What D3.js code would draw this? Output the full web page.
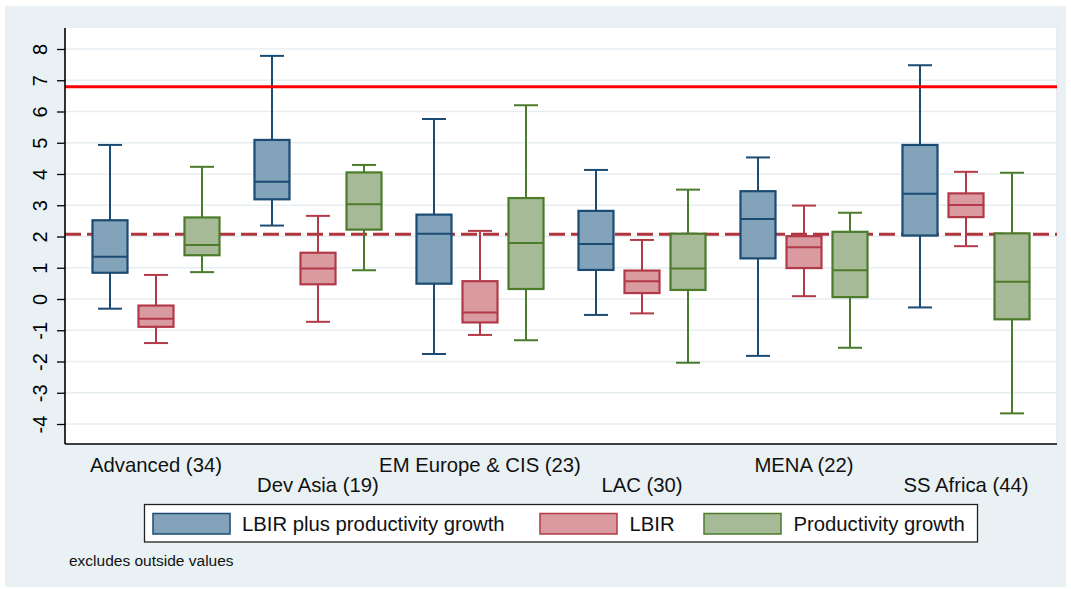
<!DOCTYPE html>
<html>
<head>
<meta charset="utf-8">
<script src="https://cdn.jsdelivr.net/npm/d3@7"></script>
<style>
  html, body { margin: 0; padding: 0; background: #ffffff; }
  svg { display: block; font-family: "Liberation Sans", Arial, Helvetica, sans-serif; }
</style>
</head>
<body>
<svg id="chart" width="1071" height="589"></svg>
<script>
// Regions and sample counts
const groups = ["Advanced (34)", "Dev Asia (19)", "EM Europe & CIS (23)", "LAC (30)", "MENA (22)", "SS Africa (44)"];
const seriesNames = ["LBIR plus productivity growth", "LBIR", "Productivity growth"];

// Box statistics per region: [lower whisker, q1, median, q3, upper whisker]
const lbirPlusProd = [
  [-0.31, 0.84, 1.35, 2.52, 4.93],
  [ 2.35, 3.19, 3.75, 5.09, 7.78],
  [-1.76, 0.49, 2.09, 2.70, 5.76],
  [-0.51, 0.93, 1.76, 2.82, 4.13],
  [-1.82, 1.30, 2.56, 3.45, 4.53],
  [-0.27, 2.03, 3.37, 4.93, 7.48]
];
const lbir = [
  [-1.41, -0.89, -0.63, -0.21, 0.77],
  [-0.73,  0.47,  0.98,  1.48, 2.66],
  [-1.15, -0.75, -0.43,  0.57, 2.18],
  [-0.46,  0.19,  0.57,  0.91, 1.89],
  [ 0.09,  0.99,  1.66,  2.01, 2.99],
  [ 1.69,  2.62,  3.01,  3.38, 4.07]
];
const prodGrowth = [
  [ 0.86, 1.40, 1.73, 2.61, 4.23],
  [ 0.92, 2.22, 3.03, 4.05, 4.29],
  [-1.32, 0.32, 1.79, 3.23, 6.20],
  [-2.04, 0.29, 0.98, 2.09, 3.50],
  [-1.56, 0.06, 0.92, 2.15, 2.76],
  [-3.66, -0.65, 0.55, 2.10, 4.04]
];
const yTicks = [-4, -3, -2, -1, 0, 1, 2, 3, 4, 5, 6, 7, 8];
const solidRefValue = 6.79;   // solid red reference line
const dashedRefValue = 2.07;  // dashed reference line

const seriesData = [lbirPlusProd, lbir, prodGrowth];
const fills = ["#82a3ba", "#d99aa0", "#a7ba97"];
const strokes = ["#1b4b73", "#b23a48", "#4b7b2b"];

const svg = d3.select("#chart");
const W = 1071, H = 589;
const plot = { left: 65, right: 1057, top: 28, bottom: 444 };

// Background panel
svg.append("rect").attr("x", 0).attr("y", 0).attr("width", W).attr("height", H).attr("fill", "#ffffff");
svg.append("rect").attr("x", 5).attr("y", 6).attr("width", 1061).attr("height", 581).attr("fill", "#e9f1f4");
svg.append("rect")
  .attr("x", plot.left).attr("y", plot.top)
  .attr("width", plot.right - plot.left).attr("height", plot.bottom - plot.top)
  .attr("fill", "#ffffff");

// Scales
const y = d3.scaleLinear().domain([-4.64, 8.672]).range([plot.bottom, plot.top]);
const x0 = d3.scaleBand().domain(groups).range([plot.left, plot.right]).paddingInner(0).paddingOuter(0.0617);
const x1 = d3.scaleBand().domain(d3.range(seriesNames.length)).range([0, x0.bandwidth()])
  .paddingInner(0.239).paddingOuter(0.38);

// Grid lines
svg.append("g").selectAll("line").data(yTicks).join("line")
  .attr("x1", plot.left).attr("x2", plot.right)
  .attr("y1", d => y(d)).attr("y2", d => y(d))
  .attr("stroke", "#e6eef2").attr("stroke-width", 1.6);

// Right frame edge
svg.append("line").attr("x1", plot.right).attr("x2", plot.right)
  .attr("y1", plot.top).attr("y2", plot.bottom)
  .attr("stroke", "#e1e9ed").attr("stroke-width", 1.5);

// Dashed reference line (beneath the boxes)
svg.append("line")
  .attr("x1", plot.left).attr("x2", plot.right)
  .attr("y1", y(dashedRefValue)).attr("y2", y(dashedRefValue))
  .attr("stroke", "#b0353d").attr("stroke-width", 3)
  .attr("stroke-dasharray", "16,6");

// Boxes
const capHalf = 12;
seriesData.forEach((data, s) => {
  const g = svg.append("g");
  data.forEach((d, i) => {
    const [lo, q1, med, q3, hi] = d;
    const bx = x0(groups[i]) + x1(s);
    const bw = x1.bandwidth();
    const cx = bx + bw / 2;
    // whiskers
    g.append("line").attr("x1", cx).attr("x2", cx).attr("y1", y(hi)).attr("y2", y(q3))
      .attr("stroke", strokes[s]).attr("stroke-width", 2);
    g.append("line").attr("x1", cx).attr("x2", cx).attr("y1", y(q1)).attr("y2", y(lo))
      .attr("stroke", strokes[s]).attr("stroke-width", 2);
    g.append("line").attr("x1", cx - capHalf).attr("x2", cx + capHalf).attr("y1", y(hi)).attr("y2", y(hi))
      .attr("stroke", strokes[s]).attr("stroke-width", 2);
    g.append("line").attr("x1", cx - capHalf).attr("x2", cx + capHalf).attr("y1", y(lo)).attr("y2", y(lo))
      .attr("stroke", strokes[s]).attr("stroke-width", 2);
    // box
    g.append("rect").attr("x", bx).attr("y", y(q3)).attr("width", bw).attr("height", y(q1) - y(q3))
      .attr("fill", fills[s]).attr("stroke", strokes[s]).attr("stroke-width", 2.2);
    // median
    g.append("line").attr("x1", bx).attr("x2", bx + bw).attr("y1", y(med)).attr("y2", y(med))
      .attr("stroke", strokes[s]).attr("stroke-width", 2);
  });
});

// Solid reference line
svg.append("line")
  .attr("x1", plot.left).attr("x2", plot.right)
  .attr("y1", y(solidRefValue)).attr("y2", y(solidRefValue))
  .attr("stroke", "#ff0000").attr("stroke-width", 3);

// Y axis, with plain hyphen minus signs
const yAxis = d3.axisLeft(y).tickValues(yTicks).tickSize(8).tickFormat(d => String(d));
const ya = svg.append("g").attr("transform", `translate(${plot.left},0)`).call(yAxis);
ya.select(".domain").remove();
ya.selectAll(".tick line").attr("stroke", "#000").attr("stroke-width", 1.3);
ya.selectAll(".tick text")
  .attr("x", null).attr("dy", null)
  .attr("transform", "translate(-18,0) rotate(-90)")
  .attr("text-anchor", "middle")
  .attr("font-size", 20).attr("fill", "#000")
  .attr("font-family", "'Liberation Sans', Arial, sans-serif");

// Axis lines
svg.append("line").attr("x1", plot.left).attr("x2", plot.left).attr("y1", plot.top).attr("y2", plot.bottom)
  .attr("stroke", "#000").attr("stroke-width", 1.6);
svg.append("line").attr("x1", plot.left).attr("x2", plot.right).attr("y1", plot.bottom).attr("y2", plot.bottom)
  .attr("stroke", "#000").attr("stroke-width", 1.6);

// Group labels, staggered on two rows
svg.append("g").selectAll("text").data(groups).join("text")
  .attr("x", d => x0(d) + x0.bandwidth() / 2)
  .attr("y", (d, i) => i % 2 === 0 ? 472 : 492)
  .attr("text-anchor", "middle")
  .attr("font-size", 20.3).attr("fill", "#111")
  .text(d => d);

// Legend
const legend = svg.append("g");
legend.append("rect").attr("x", 144.5).attr("y", 504.5).attr("width", 833).attr("height", 37.5)
  .attr("fill", "#ffffff").attr("stroke", "#222").attr("stroke-width", 1.3);
const legendSwatchX = [153, 540, 704];
const legendTextX = [242, 629.5, 793.5];
seriesNames.forEach((name, s) => {
  legend.append("rect").attr("x", legendSwatchX[s]).attr("y", 513.5).attr("width", 77).attr("height", 20.5)
    .attr("fill", fills[s]).attr("stroke", strokes[s]).attr("stroke-width", 1.5);
  legend.append("text").attr("x", legendTextX[s]).attr("y", 531)
    .attr("font-size", 20.3).attr("fill", "#111").text(name);
});

// Note
svg.append("text").attr("x", 69).attr("y", 566)
  .attr("font-size", 15.5).attr("fill", "#111").text("excludes outside values");
</script>
</body>
</html>
